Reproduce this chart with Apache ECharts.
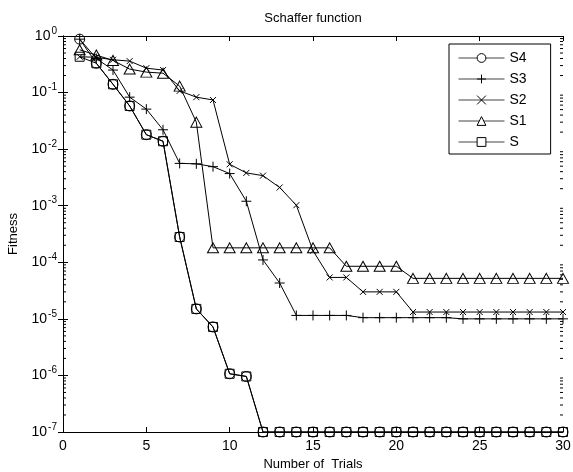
<!DOCTYPE html>
<html>
<head>
<meta charset="utf-8">
<script src="https://cdn.jsdelivr.net/npm/echarts@6/dist/echarts.min.js"></script>
<style>
  html, body { margin: 0; padding: 0; background: #fff; }
  #main { width: 573px; height: 472px; }
</style>
</head>
<body>
<div id="main"></div>
<script>
// 试验次数（横轴）
const trials = [1, 2, 3, 4, 5, 6, 7, 8, 9, 10, 11, 12, 13, 14, 15, 16, 17, 18, 19, 20, 21, 22, 23, 24, 25, 26, 27, 28, 29, 30];

// 各算法的 fitness 值
const valS4 = [0.88, 0.33, 0.14, 0.058, 0.018, 0.0138, 2.8e-4, 1.5e-5, 7.2e-6, 1.07e-6, 9.6e-7,
  1e-7, 1e-7, 1e-7, 1e-7, 1e-7, 1e-7, 1e-7, 1e-7, 1e-7, 1e-7, 1e-7, 1e-7, 1e-7, 1e-7, 1e-7, 1e-7, 1e-7, 1e-7, 1e-7];
const valS3 = [0.88, 0.40, 0.25, 0.083, 0.051, 0.022, 0.0056, 0.0055, 0.0049, 0.0037, 0.0012, 1.1e-4, 4.3e-5,
  1.15e-5, 1.15e-5, 1.15e-5, 1.15e-5, 1.05e-5, 1.05e-5, 1.05e-5, 1.05e-5, 1.05e-5, 1.05e-5,
  1.0e-5, 1.0e-5, 1.0e-5, 1.0e-5, 1.0e-5, 1.0e-5, 1.0e-5];
const valS2 = [0.43, 0.42, 0.38, 0.36, 0.27, 0.25, 0.107, 0.083, 0.074, 0.0054, 0.0038, 0.0034, 0.0021, 0.00102,
  1.6e-4, 5.4e-5, 5.4e-5, 3.0e-5, 3.0e-5, 3.0e-5,
  1.32e-5, 1.32e-5, 1.32e-5, 1.32e-5, 1.32e-5, 1.32e-5, 1.32e-5, 1.32e-5, 1.32e-5, 1.32e-5];
const valS1 = [0.57, 0.46, 0.37, 0.26, 0.23, 0.22, 0.13, 0.030,
  1.8e-4, 1.8e-4, 1.8e-4, 1.8e-4, 1.8e-4, 1.8e-4, 1.8e-4, 1.8e-4,
  8.5e-5, 8.5e-5, 8.5e-5, 8.5e-5,
  5.2e-5, 5.2e-5, 5.2e-5, 5.2e-5, 5.2e-5, 5.2e-5, 5.2e-5, 5.2e-5, 5.2e-5, 5.2e-5];
const valS = [0.43, 0.33, 0.14, 0.058, 0.018, 0.0138, 2.8e-4, 1.5e-5, 7.2e-6, 1.07e-6, 9.6e-7,
  1e-7, 1e-7, 1e-7, 1e-7, 1e-7, 1e-7, 1e-7, 1e-7, 1e-7, 1e-7, 1e-7, 1e-7, 1e-7, 1e-7, 1e-7, 1e-7, 1e-7, 1e-7, 1e-7];

// 坐标刻度
const xTicks = [0, 5, 10, 15, 20, 25, 30];
const yDecades = [1e-7, 1e-6, 1e-5, 1e-4, 1e-3, 1e-2, 1e-1];
const minorFactors = [2, 3, 4, 5, 6, 7, 8, 9];

const FONT = "'Liberation Sans', Arial, sans-serif";

const toPairs = (vals) => trials.map((t, i) => [t, vals[i]]);

// 对数轴的次刻度 (2..9 × 10^n)
const minorValues = [];
yDecades.forEach((d) => minorFactors.forEach((k) => minorValues.push([0, k * d])));

const plusPath = "path://M5,0L5,10M0,5L10,5";
const crossPath = "path://M0,0L10,10M10,0L0,10";

function lineSeries(name, vals, symbol, size) {
  return {
    name: name,
    type: "line",
    data: toPairs(vals),
    symbol: symbol,
    symbolSize: size,
    clip: false,
    z: 3,
    lineStyle: { color: "#000", width: 1 },
    // 空心符号：透明填充 + 1px 黑色描边
    itemStyle: { color: "rgba(0,0,0,0)", borderColor: "#000", borderWidth: 1 },
    emphasis: { disabled: true },
  };
}

let myChart = echarts.init(document.getElementById("main"), null, { renderer: "canvas" });

let option = {
  animation: false,
  backgroundColor: "#fff",
  textStyle: { fontFamily: FONT, color: "#000" },
  title: {
    text: "Schaffer function",
    left: 313,
    textAlign: "center",
    top: 12,
    padding: 0,
    textStyle: { fontFamily: FONT, fontSize: 13, fontWeight: "normal", color: "#000" },
  },
  legend: {
    orient: "vertical",
    left: 449,
    top: 44,
    padding: [7, 24, 5, 9],
    itemWidth: 46,
    itemHeight: 11,
    itemGap: 7,
    borderColor: "#000",
    borderWidth: 1,
    backgroundColor: "#fff",
    selectedMode: false,
    lineStyle: { width: 1, color: "#444" },
    itemStyle: { color: "#fff", borderColor: "#000", borderWidth: 1 },
    textStyle: { fontFamily: FONT, fontSize: 14, color: "#000" },
    data: ["S4", "S3", "S2", "S1", "S"],
  },
  grid: { left: 63, right: 10, top: 36, bottom: 40, containLabel: false, outerBoundsMode: "none" },
  xAxis: [
    {
      type: "value",
      min: 0,
      max: 30,
      interval: 5,
      name: "Number of  Trials",
      nameLocation: "middle",
      nameGap: 25,
      nameTextStyle: { fontFamily: FONT, fontSize: 13, color: "#000" },
      axisLine: { lineStyle: { color: "#000", width: 1 } },
      axisTick: { inside: true, length: 5, lineStyle: { color: "#000" } },
      axisLabel: {
        margin: 7,
        fontFamily: FONT,
        fontSize: 14,
        color: "#000",
        formatter: (v) => (xTicks.indexOf(v) >= 0 ? String(v) : ""),
      },
      splitLine: { show: false },
    },
    {
      type: "value",
      position: "top",
      min: 0,
      max: 30,
      interval: 5,
      axisLine: { lineStyle: { color: "#000", width: 1 } },
      axisTick: { inside: true, length: 5, lineStyle: { color: "#000" } },
      axisLabel: { show: false },
      splitLine: { show: false },
    },
  ],
  yAxis: [
    {
      type: "log",
      logBase: 10,
      min: 1e-7,
      max: 1,
      interval: 1,
      name: "Fitness",
      nameLocation: "middle",
      nameGap: 43,
      nameTextStyle: { fontFamily: FONT, fontSize: 13, color: "#000" },
      axisLine: { lineStyle: { color: "#000", width: 1 } },
      axisTick: { inside: true, length: 5, lineStyle: { color: "#000" } },
      axisLabel: {
        margin: 6,
        formatter: (v) => "{b|10}{s|" + Math.round(Math.log10(v)) + "}",
        rich: {
          b: { fontFamily: FONT, fontSize: 14, color: "#000" },
          s: { fontFamily: FONT, fontSize: 10, color: "#000", padding: [0, 0, 10, 1] },
        },
      },
      splitLine: { show: false },
    },
    {
      type: "log",
      logBase: 10,
      position: "right",
      min: 1e-7,
      max: 1,
      interval: 1,
      axisLine: { lineStyle: { color: "#000", width: 1 } },
      axisTick: { inside: true, length: 5, lineStyle: { color: "#000" } },
      axisLabel: { show: false },
      splitLine: { show: false },
    },
  ],
  series: [
    lineSeries("S4", valS4, "circle", 10),
    lineSeries("S3", valS3, plusPath, 10),
    lineSeries("S2", valS2, crossPath, 6),
    lineSeries("S1", valS1, "triangle", [11, 10]),
    lineSeries("S", valS, "rect", 9),
    {
      // 左右两侧的对数次刻度
      type: "custom",
      silent: true,
      z: 5,
      data: minorValues,
      renderItem: function (params, api) {
        const val = api.value(1);
        const pl = api.coord([0, val]);
        const pr = api.coord([30, val]);
        const st = { stroke: "#000", lineWidth: 1 };
        return {
          type: "group",
          children: [
            { type: "line", shape: { x1: pl[0], y1: pl[1], x2: pl[0] + 3, y2: pl[1] }, style: st },
            { type: "line", shape: { x1: pr[0], y1: pr[1], x2: pr[0] - 3, y2: pr[1] }, style: st },
          ],
        };
      },
    },
  ],
};

option && myChart.setOption(option);
</script>
</body>
</html>
